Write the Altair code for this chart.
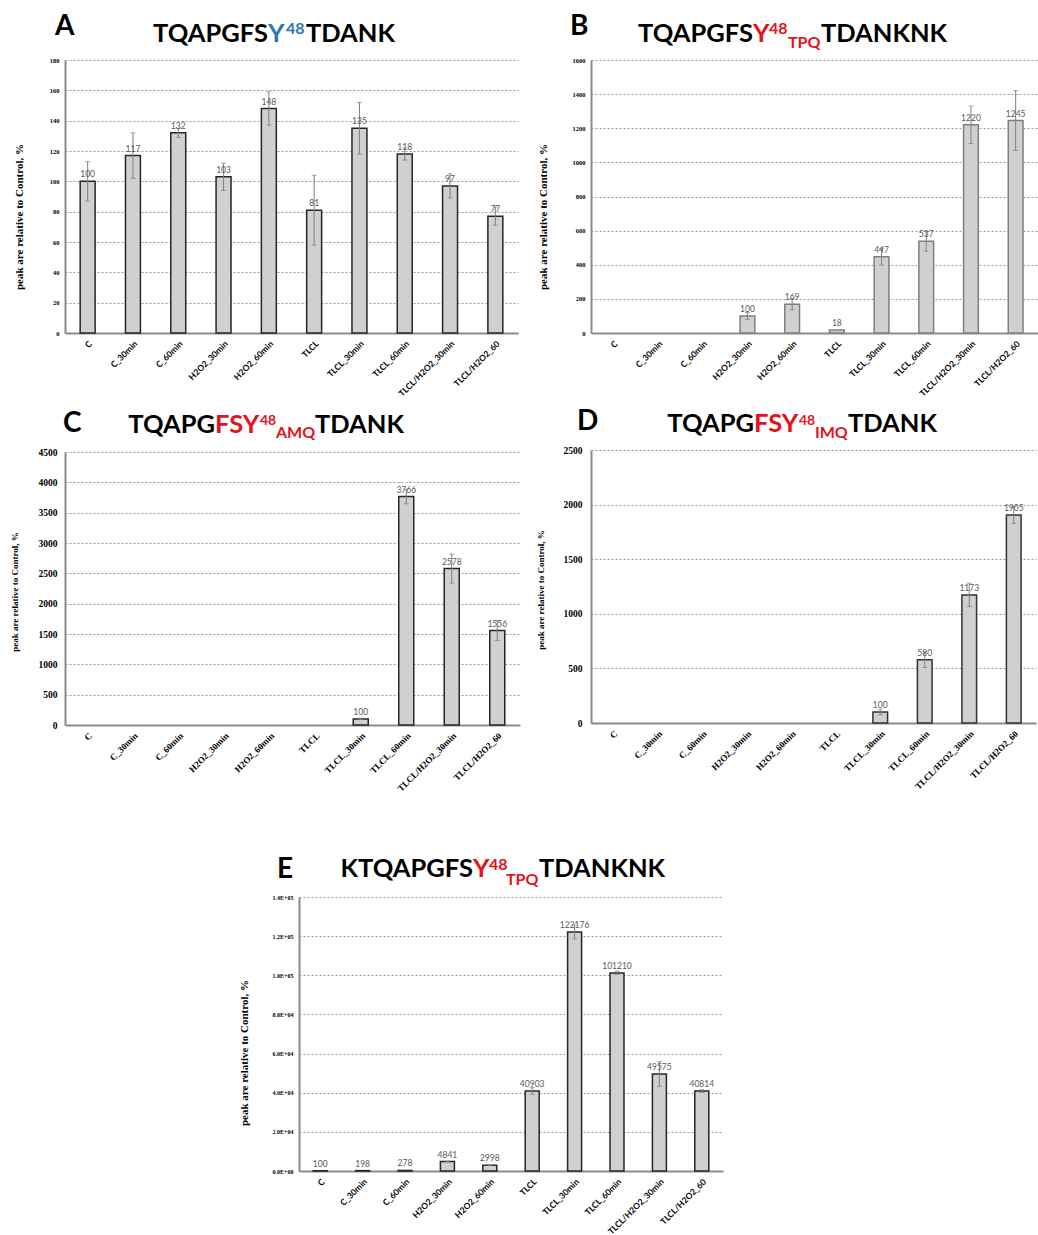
import altair as alt
import pandas as pd

cats = ["C", "C_30min", "C_60min", "H2O2_30min", "H2O2_60min", "TLCL",
        "TLCL_30min", "TLCL_60min", "TLCL/H2O2_30min", "TLCL/H2O2_60"]

vals_a = [100, 117, 132, 103, 148, 81, 135, 118, 97, 77]
err_a = [13, 15, 3, 9, 11, 23, 17, 4, 8, 6]
ticks_a = [0, 20, 40, 60, 80, 100, 120, 140, 160, 180]

vals_b = [None, None, None, 100, 169, 18, 447, 537, 1220, 1245]
err_b = [None, None, None, 20, 33, 0, 50, 58, 110, 175]
ticks_b = [0, 200, 400, 600, 800, 1000, 1200, 1400, 1600]

vals_c = [None, None, None, None, None, None, 100, 3766, 2578, 1556]
err_c = [None, None, None, None, None, None, 10, 120, 240, 165]
ticks_c = [0, 500, 1000, 1500, 2000, 2500, 3000, 3500, 4000, 4500]

vals_d = [None, None, None, None, None, None, 100, 580, 1173, 1905]
err_d = [None, None, None, None, None, None, 25, 72, 107, 77]
ticks_d = [0, 500, 1000, 1500, 2000, 2500]

vals_e = [100, 198, 278, 4841, 2998, 40903, 122176, 101210, 49575, 40814]
err_e = [0, 0, 0, 200, 150, 1700, 3600, 800, 6300, 700]
ticks_e = [0, 20000, 40000, 60000, 80000, 100000, 120000, 140000]

YTITLE = "peak are relative to Control, %"
RED = "#e3121b"
BLUE = "#2e74b5"
BLACK = "#000000"
TS = 25.5   # main title font size
SUP = 16    # superscript size
SUB = 16    # subscript size

one = pd.DataFrame({"d": [0]})


def txt(s, x, y, color=BLACK, size=TS, align="left", font="Lato", angle=0,
        baseline="alphabetic", weight="bold"):
    kw = dict(text=s, font=font, fontSize=size, fontWeight=weight, color=color,
              align=align, baseline=baseline)
    if angle:
        kw["angle"] = angle
    return alt.Chart(one).mark_text(**kw).encode(x=alt.value(x), y=alt.value(y))


def panel(vals, errs, ticks, w, h, anchor, letter, segs, ytitle, sans_x=True,
          ylab_size=6.5, ylab_pad=6, bar_stroke="#262626", label_expr=None):
    df = pd.DataFrame({"cat": cats, "v": vals, "e": errs})
    df["lo"] = df["v"] - df["e"]
    df["hi"] = df["v"] + df["e"]
    df["lab"] = [("" if pd.isna(v) else str(int(v))) for v in df["v"]]

    if sans_x:
        xfont, xsize = "Lato", 8.5
    else:
        xfont, xsize = "Liberation Serif", 9
    xscale = alt.Scale(domain=cats, paddingInner=0.67, paddingOuter=0.335)
    xaxis = alt.Axis(title=None, labelAngle=-45, labelFont=xfont, labelFontSize=xsize,
                     labelFontWeight="bold", labelColor="#000000", domainColor="#8c8c8c",
                     domainWidth=2, ticks=False, labelPadding=6, grid=False)
    yaxis_kw = dict(title=None, values=ticks, grid=True, gridDash=[2, 2], gridColor="#9a9a9a",
                    gridWidth=1, ticks=False, domainColor="#8c8c8c", domainWidth=2,
                    labelFont="Liberation Serif", labelFontWeight="bold",
                    labelFontSize=ylab_size, labelPadding=ylab_pad, labelColor="#000000")
    if label_expr:
        yaxis_kw["labelExpr"] = label_expr
    else:
        yaxis_kw["format"] = "d"
    yaxis = alt.Axis(**yaxis_kw)
    yscale = alt.Scale(domain=[ticks[0], ticks[-1]], nice=False)

    x = alt.X("cat:N", scale=xscale, axis=xaxis)
    base = alt.Chart(df).transform_filter("isValid(datum.v)")

    bars = base.mark_bar(fill="#d0d0d0", stroke=bar_stroke, strokeWidth=1.5).encode(
        x=x, y=alt.Y("v:Q", scale=yscale, axis=yaxis))
    ebase = base.transform_filter("datum.e > 0")
    erule = ebase.mark_rule(color="#7f7f7f", strokeWidth=1).encode(
        x=x, y=alt.Y("lo:Q", scale=yscale, axis=yaxis), y2="hi:Q")
    ecap1 = ebase.mark_tick(color="#7f7f7f", thickness=1, size=5, orient="horizontal").encode(
        x=x, y=alt.Y("lo:Q", scale=yscale, axis=yaxis))
    ecap2 = ebase.mark_tick(color="#7f7f7f", thickness=1, size=5, orient="horizontal").encode(
        x=x, y=alt.Y("hi:Q", scale=yscale, axis=yaxis))
    labels = base.mark_text(font="Lato", fontSize=8.5, color="#595959", dy=-4,
                            baseline="alphabetic").encode(
        x=x, y=alt.Y("v:Q", scale=yscale, axis=yaxis), text="lab:N")

    ax, at, ab = anchor
    anch = alt.Chart(one).mark_rule(strokeOpacity=0, color="white").encode(
        x=alt.value(ax), x2=alt.value(ax), y=alt.value(at), y2=alt.value(ab))

    layers = [bars, erule, ecap1, ecap2, labels, anch]
    lx, ly = letter[1], letter[2]
    layers.append(txt(letter[0], lx, ly, size=28))
    for s in segs:
        text, sx, sy, col, size, align = s
        layers.append(txt(text, sx, sy, color=col, size=size, align=align))
    tx, ty, tsize = ytitle
    layers.append(txt(YTITLE, tx, ty, size=tsize, font="Liberation Serif", angle=270,
                      align="center", baseline="middle"))
    return alt.layer(*layers).properties(width=w, height=h)


pA = panel(vals_a, err_a, ticks_a, 453, 273, (-65, -60, 345), ("A", -10, -25),
           [("TQAPGFS", 203, -18, BLACK, TS, "right"),
            ("Y", 203, -18, BLUE, TS, "left"),
            ("48", 221, -26, BLUE, SUP, "left"),
            ("TDANK", 241, -18, BLACK, TS, "left")],
           (-45, 157, 11))

pB = panel(vals_b, err_b, ticks_b, 447, 273, (-70, -60, 345), ("B", -21, -25),
           [("TQAPGFS", 162, -18, BLACK, TS, "right"),
            ("Y", 162, -18, RED, TS, "left"),
            ("48", 178, -26, RED, SUP, "left"),
            ("TPQ", 197, -12, RED, SUB, "left"),
            ("TDANKNK", 230, -18, BLACK, TS, "left")],
           (-47, 157, 11), bar_stroke="#7f7f7f")

pC = panel(vals_c, err_c, ticks_c, 455, 273, (-65, -46, 348), ("C", -2, -20),
           [("TQAPG", 150, -19, BLACK, TS, "right"),
            ("FSY", 150, -19, RED, TS, "left"),
            ("48", 195, -27, RED, 14, "left"),
            ("AMQ", 211, -14, RED, SUB, "left"),
            ("TDANK", 250, -19, BLACK, TS, "left")],
           (-50, 140, 9), sans_x=False, ylab_size=9.5, ylab_pad=8)

pD = panel(vals_d, err_d, ticks_d, 445, 273, (-70, -44, 349), ("D", -14, -20),
           [("TQAPG", 163, -18, BLACK, TS, "right"),
            ("FSY", 163, -18, RED, TS, "left"),
            ("48", 208, -25, RED, 14, "left"),
            ("IMQ", 224, -12, RED, SUB, "left"),
            ("TDANK", 257, -18, BLACK, TS, "left")],
           (-50, 140, 9), sans_x=False, ylab_size=9.5, ylab_pad=9, bar_stroke="#333333")

e_expr = ("datum.value == 0 ? '0.0E+00' : (datum.value < 100000 ? "
          "format(datum.value / 10000, '.1f') + 'E+04' : "
          "format(datum.value / 100000, '.1f') + 'E+05')")
pE = panel(vals_e, err_e, ticks_e, 424, 274, (-60, -96, 300), ("E", -22, -19),
           [("KTQAPGFS", 174, -20, BLACK, TS, "right"),
            ("Y", 174, -20, RED, TS, "left"),
            ("48", 190, -27, RED, SUP, "left"),
            ("TPQ", 207, -12, RED, SUB, "left"),
            ("TDANKNK", 240, -20, BLACK, TS, "left")],
           (-54, 156, 11), ylab_size=6, ylab_pad=6, label_expr=e_expr)

spacer = alt.Chart(one).mark_rule(strokeOpacity=0, color="white").encode(
    x=alt.value(0), x2=alt.value(174), y=alt.value(0), y2=alt.value(0)
).properties(width=174, height=10)
row3 = alt.hconcat(spacer, pE, spacing=0)

grid = alt.concat(pA, pB, pC, pD, columns=2, align="none", spacing=1)
chart = alt.vconcat(grid, row3, spacing=1).properties(padding=0).configure_view(stroke=None)

chart.save("out.html", embed_options={"renderer": "svg", "actions": False})
